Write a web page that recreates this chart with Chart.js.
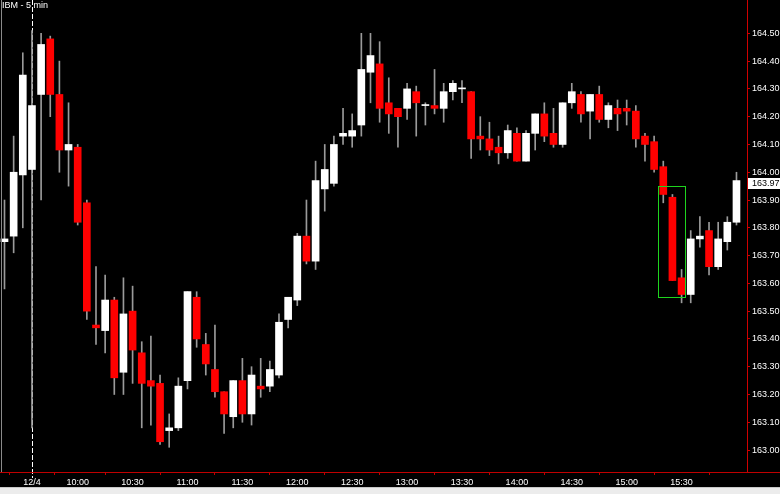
<!DOCTYPE html>
<html><head><meta charset="utf-8">
<script src="https://cdn.jsdelivr.net/npm/chart.js@4.4.0/dist/chart.umd.min.js"></script>
<style>html,body{margin:0;padding:0;background:#000;overflow:hidden}#wrap{width:780px;height:494px;position:relative}</style>
</head><body><div id="wrap"><canvas id="c" width="780" height="494"></canvas></div>
<script>
const chartTitle = 'IBM - 5 min';
const dayLabel = '12/4';
const dayStartIndex = 3;
const times = [
 '15:50','15:55','16:00',
 '09:35','09:40','09:45','09:50','09:55',
 '10:00','10:05','10:10','10:15','10:20','10:25','10:30','10:35','10:40','10:45','10:50','10:55',
 '11:00','11:05','11:10','11:15','11:20','11:25','11:30','11:35','11:40','11:45','11:50','11:55',
 '12:00','12:05','12:10','12:15','12:20','12:25','12:30','12:35','12:40','12:45','12:50','12:55',
 '13:00','13:05','13:10','13:15','13:20','13:25','13:30','13:35','13:40','13:45','13:50','13:55',
 '14:00','14:05','14:10','14:15','14:20','14:25','14:30','14:35','14:40','14:45','14:50','14:55',
 '15:00','15:05','15:10','15:15','15:20','15:25','15:30','15:35','15:40','15:45','15:50','15:55',
 '16:00'
];
const opens = [
 163.75,163.77,163.99,
 164.01,164.28,164.48,164.28,164.08,
 164.09,163.89,163.45,163.43,163.54,163.28,163.50,163.35,163.25,163.24,163.07,163.08,
 163.25,163.55,163.38,163.29,163.21,163.12,163.25,163.13,163.23,163.23,163.27,163.47,
 163.54,163.77,163.68,163.94,163.96,164.13,164.13,164.17,164.36,164.39,164.25,164.23,
 164.23,164.29,164.24,164.24,164.23,164.29,164.30,164.29,164.13,164.12,164.09,164.07,
 164.14,164.04,164.14,164.21,164.14,164.10,164.25,164.28,164.22,164.28,164.19,164.23,
 164.23,164.22,164.13,164.11,164.02,163.91,163.62,163.56,163.76,163.79,163.66,163.75,
 163.82
];
const highs = [
 163.90,164.13,164.43,
 164.51,164.50,164.49,164.40,164.25,
 164.10,163.90,163.66,163.63,163.55,163.62,163.59,163.39,163.41,163.27,163.13,163.26,
 163.57,163.57,163.42,163.45,163.21,163.25,163.33,163.30,163.33,163.32,163.49,163.55,
 163.78,163.90,164.04,164.10,164.13,164.23,164.21,164.50,164.50,164.47,164.34,164.23,
 164.32,164.31,164.25,164.37,164.32,164.33,164.33,164.29,164.20,164.18,164.13,164.17,
 164.16,164.15,164.21,164.25,164.23,164.25,164.32,164.29,164.28,164.31,164.25,164.26,
 164.26,164.24,164.14,164.13,164.04,163.92,163.65,163.79,163.84,163.82,163.82,163.84,
 164.00
];
const lows = [
 163.58,163.71,163.80,
 163.08,163.90,164.20,164.00,163.95,
 163.81,163.47,163.38,163.35,163.20,163.20,163.24,163.08,163.09,163.02,163.01,163.07,
 163.22,163.37,163.27,163.19,163.06,163.08,163.10,163.09,163.19,163.21,163.26,163.44,
 163.52,163.67,163.65,163.86,163.95,164.10,164.09,164.13,164.25,164.18,164.14,164.09,
 164.19,164.13,164.17,164.21,164.18,164.26,164.25,164.05,164.08,164.06,164.03,164.05,
 164.04,164.04,164.08,164.11,164.09,164.09,164.23,164.18,164.12,164.18,164.16,164.15,
 164.17,164.09,164.04,164.00,163.89,163.61,163.53,163.53,163.73,163.63,163.65,163.72,
 163.81
];
const closes = [
 163.76,164.00,164.35,
 164.24,164.46,164.28,164.08,164.10,
 163.82,163.50,163.44,163.54,163.26,163.49,163.36,163.24,163.23,163.03,163.08,163.23,
 163.57,163.40,163.31,163.21,163.13,163.25,163.13,163.27,163.22,163.29,163.46,163.55,
 163.77,163.68,163.97,164.01,164.10,164.14,164.15,164.37,164.42,164.23,164.21,164.20,
 164.30,164.25,164.24,164.23,164.29,164.32,164.30,164.12,164.12,164.08,164.07,164.15,
 164.04,164.14,164.21,164.13,164.10,164.25,164.29,164.21,164.28,164.19,164.24,164.21,
 164.22,164.12,164.10,164.01,163.92,163.61,163.56,163.76,163.77,163.66,163.76,163.82,
 163.97
];
const tickTimes = ['10:00','10:30','11:00','11:30','12:00','12:30','13:00','13:30','14:00','14:30','15:00','15:30'];
const priceTicks = [163.00,163.10,163.20,163.30,163.40,163.50,163.60,163.70,163.80,163.90,164.00,164.10,164.20,164.30,164.40,164.50];
const boxFromBar = 71.45, boxToBar = 74.35, boxHigh = 163.95, boxLow = 163.55;

const FONT = "'Liberation Sans', Arial, sans-serif";
const xTickIdx = [];
times.forEach((t,i)=>{ if (i===dayStartIndex || (i>dayStartIndex && tickTimes.includes(t))) xTickIdx.push(i); });
const isUp = closes.map((c,i)=>c>=opens[i]);
const bodyData = times.map((t,i)=>({x:i, y:[opens[i], closes[i]]}));
const wickData = times.map((t,i)=>({x:i, y:[lows[i], highs[i]]}));

const bgPlugin = {
  id:'bg',
  beforeDraw(chart){
    const c = chart.ctx;
    c.save(); c.fillStyle='#000'; c.fillRect(0,0,chart.width,chart.height); c.restore();
  },
  beforeDatasetsDraw(chart){
    const c = chart.ctx, a = chart.chartArea, xs = chart.scales.x;
    const x = Math.round(xs.getPixelForValue(dayStartIndex)) + 0.5;
    c.save();
    c.strokeStyle='#ffffff'; c.lineWidth=1; c.setLineDash([5,2]);
    c.beginPath(); c.moveTo(x,a.top); c.lineTo(x,a.bottom+6); c.stroke();
    c.restore();
  },
  afterDraw(chart){
    const c = chart.ctx, a = chart.chartArea, xs = chart.scales.x, ys = chart.scales.y;
    c.save();
    c.strokeStyle='#8a8a8a'; c.lineWidth=1;
    c.beginPath(); c.moveTo(1.5,0); c.lineTo(1.5,a.bottom); c.stroke();
    c.strokeStyle='#c00000';
    c.beginPath(); c.moveTo(0,a.bottom+0.5); c.lineTo(chart.width,a.bottom+0.5); c.stroke();
    const bx1 = xs.getPixelForValue(boxFromBar), bx2 = xs.getPixelForValue(boxToBar);
    const by1 = ys.getPixelForValue(boxHigh), by2 = ys.getPixelForValue(boxLow);
    c.strokeStyle='#1ed41e'; c.lineWidth=1;
    c.strokeRect(Math.round(bx1)+0.5, Math.round(by1)+0.5, Math.round(bx2-bx1), Math.round(by2-by1));
    const last = closes[closes.length-1];
    const ly = ys.getPixelForValue(last);
    c.fillStyle='#ffffff';
    c.fillRect(a.right+1, Math.round(ly)-3, chart.width-a.right-1, 11);
    c.fillStyle='#000000'; c.font='9px '+FONT; c.textBaseline='middle'; c.textAlign='left';
    c.fillText(last.toFixed(2), a.right+5, Math.round(ly)+2.5);
    c.fillStyle='#ffffff'; c.font='9px '+FONT; c.textBaseline='middle';
    c.fillText(chartTitle, 2, 6);
    c.fillStyle='#ececec'; c.fillRect(0,487,chart.width,chart.height-487);
    c.strokeStyle='#c8c8c8'; c.beginPath(); c.moveTo(0,487.5); c.lineTo(chart.width,487.5); c.stroke();
    c.restore();
  }
};

new Chart(document.getElementById('c'), {
  type:'bar',
  data:{datasets:[
    {data:bodyData, backgroundColor:isUp.map(u=>u?'#ffffff':'#ff0000'), borderWidth:0, barThickness:7, grouped:false, minBarLength:1, order:0},
    {data:wickData, backgroundColor:'#9a9a9a', borderWidth:0, barThickness:1, grouped:false, order:1}
  ]},
  options:{
    responsive:false, animation:false, maintainAspectRatio:false,
    layout:{padding:0},
    plugins:{legend:{display:false}, tooltip:{enabled:false}, title:{display:false}},
    scales:{
      x:{
        type:'linear', min:-0.492, max:81.15, offset:false,
        grid:{display:true, drawOnChartArea:false, drawTicks:true, tickLength:3, tickColor:'#c00000'},
        border:{display:true, color:'#c00000'},
        afterBuildTicks:s=>{ s.ticks = xTickIdx.map(v=>({value:v})); },
        afterFit:s=>{ s.height = 22; s.paddingLeft = 0; s.paddingRight = 0; },
        ticks:{autoSkip:false, maxRotation:0, color:'#ffffff', padding:2, font:{family:FONT, size:9},
          callback:(v)=> v===dayStartIndex ? dayLabel : times[v]}
      },
      y:{
        position:'right', min:162.921, max:164.62,
        grid:{display:true, drawOnChartArea:false, drawTicks:true, tickLength:3, tickColor:'#d00000'},
        border:{display:true, color:'#d00000'},
        afterBuildTicks:s=>{ s.ticks = priceTicks.map(v=>({value:v})); },
        afterFit:s=>{ s.width = 33; s.paddingTop = 0; s.paddingBottom = 0; },
        ticks:{color:'#ffffff', padding:2, font:{family:FONT, size:9}, callback:(v)=>Number(v).toFixed(2)}
      }
    }
  },
  plugins:[bgPlugin]
});
</script></body></html>
